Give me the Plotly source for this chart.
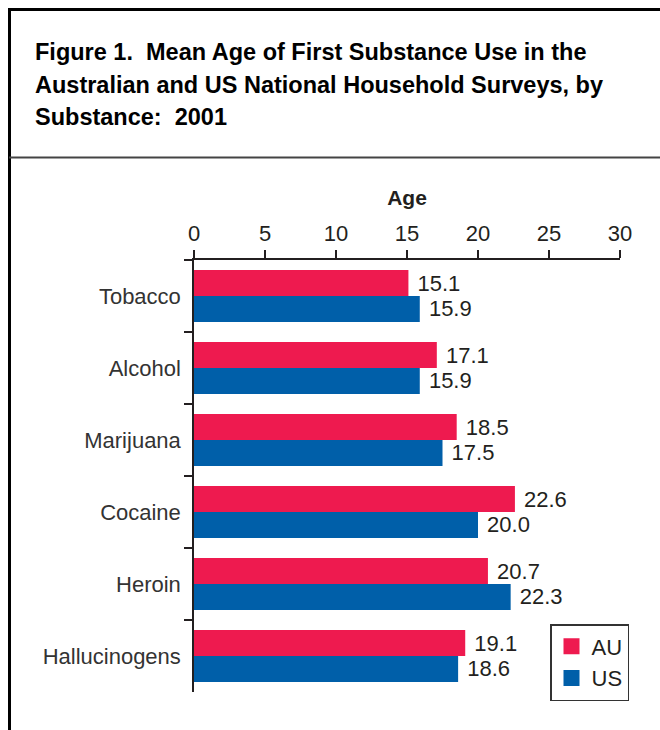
import plotly.graph_objects as go

substances = ["Tobacco", "Alcohol", "Marijuana", "Cocaine", "Heroin", "Hallucinogens"]
au_values = [15.1, 17.1, 18.5, 22.6, 20.7, 19.1]
us_values = [15.9, 15.9, 17.5, 20.0, 22.3, 18.6]
x_ticks = [0, 5, 10, 15, 20, 25, 30]

RED = "#EE1A4F"
BLUE = "#005FA9"
TXT = "#231F20"
FONT = "Liberation Sans, Arial, sans-serif"

W, H = 660, 730
L, R, T, B = 194, 40, 260, 38
PW, PH = W - L - R, H - T - B


def px(x):
    return (x - L) / PW


def py(y):
    return (H - B - y) / PH


fig = go.Figure()
fig.add_trace(go.Bar(
    y=substances, x=au_values, orientation="h", name="AU",
    marker=dict(color=RED, line=dict(width=0)),
    text=[f" {v:.1f}" for v in au_values], textposition="outside",
    textfont=dict(size=22, color=TXT, family=FONT), cliponaxis=False,
    showlegend=False,
))
fig.add_trace(go.Bar(
    y=substances, x=us_values, orientation="h", name="US",
    marker=dict(color=BLUE, line=dict(width=0)),
    text=[f" {v:.1f}" for v in us_values], textposition="outside",
    textfont=dict(size=22, color=TXT, family=FONT), cliponaxis=False,
    showlegend=False,
))
# legend entries
for nm, col in [("AU", RED), ("US", BLUE)]:
    fig.add_trace(go.Scatter(
        x=[None], y=[None], mode="markers", name=nm,
        marker=dict(symbol="square", size=20, color=col),
    ))

fig.update_layout(
    width=W, height=H,
    margin=dict(l=L, r=R, t=T, b=B, autoexpand=False),
    paper_bgcolor="white", plot_bgcolor="white",
    barmode="group", bargap=0.28, bargroupgap=0,
    font=dict(family=FONT, color=TXT, size=22),
    legend=dict(
        x=px(550), y=py(624), xanchor="left", yanchor="top",
        bordercolor="#333333", borderwidth=1.5, bgcolor="white",
        font=dict(size=22, color=TXT, family=FONT),
        itemsizing="trace", tracegroupgap=0,
    ),
    xaxis=dict(
        side="top", range=[0, 30], tickvals=x_ticks, ticktext=[str(v) for v in x_ticks],
        ticks="outside", ticklen=8, tickwidth=1.5, tickcolor=TXT,
        showline=True, linecolor=TXT, linewidth=1.5, showgrid=False, zeroline=False,
        tickfont=dict(size=22, color=TXT, family=FONT),
        title=dict(text="<b>Age</b>", font=dict(size=21, color=TXT, family=FONT), standoff=10),
    ),
    yaxis=dict(
        autorange="reversed", type="category",
        ticks="outside", tickson="boundaries", ticklen=8, tickwidth=1.5, tickcolor=TXT,
        showline=True, linecolor=TXT, linewidth=1.5, showgrid=False, zeroline=False,
        tickfont=dict(size=22, color="#333333", family=FONT),
        ticklabelstandoff=7,
    ),
)

shapes = [
    dict(type="line", xref="paper", yref="paper", x0=px(9.5), x1=px(9.5), y0=py(8), y1=py(H),
         line=dict(color="black", width=3)),
    dict(type="line", xref="paper", yref="paper", x0=px(8), x1=px(W), y0=py(9.5), y1=py(9.5),
         line=dict(color="black", width=3)),
    dict(type="line", xref="paper", yref="paper", x0=px(9), x1=px(W), y0=py(157.5), y1=py(157.5),
         line=dict(color="#444444", width=2)),
]
fig.update_layout(shapes=shapes)

title_lines = [
    "Figure 1.  Mean Age of First Substance Use in the",
    "Australian and US National Household Surveys, by",
    "Substance:  2001",
]
title_y = [52, 85, 117]
for line, yy in zip(title_lines, title_y):
    fig.add_annotation(
        x=px(33), y=py(yy), xref="paper", yref="paper", xanchor="left", yanchor="middle",
        text=f"<b>{line}</b>", showarrow=False,
        font=dict(size=23.5, color="black", family=FONT),
    )

fig.write_html("out.html")
